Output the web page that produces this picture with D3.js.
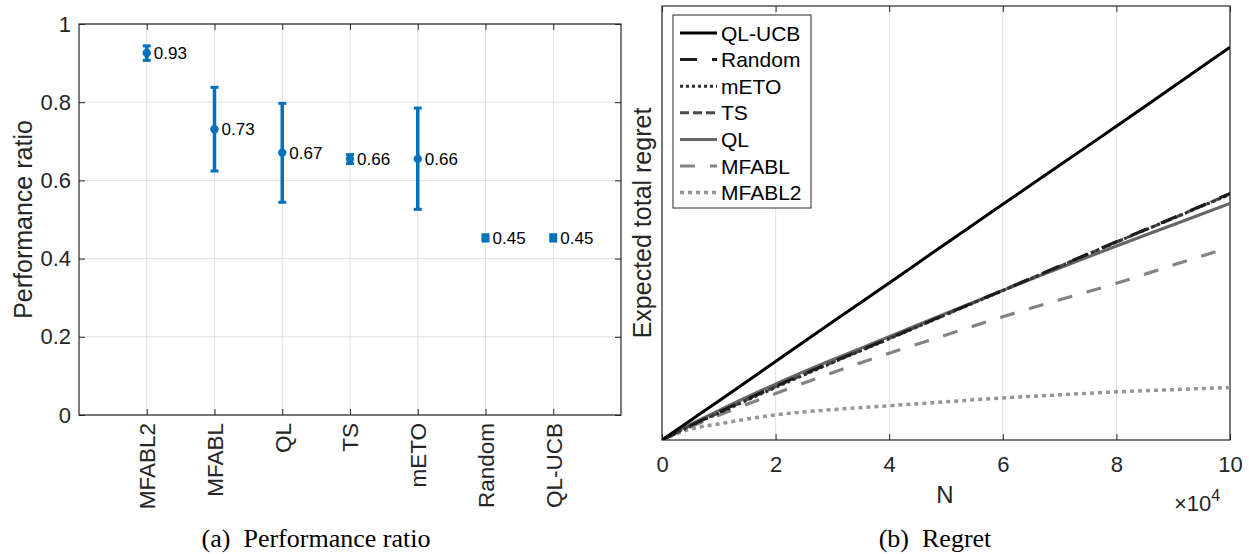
<!DOCTYPE html>
<html><head><meta charset="utf-8">
<script src="https://cdn.jsdelivr.net/npm/d3@7"></script>
<style>
body{margin:0;background:#fff}
svg{display:block}
.sans{font-family:"Liberation Sans", Arimo, Arial, Helvetica, sans-serif}
.serif{font-family:"Liberation Serif", Tinos, "Times New Roman", Times, serif}
</style>
</head><body>
<svg id="c" width="1249" height="554"></svg>
<script>
// ---- Panel (a) data ----
const categories = ["MFABL2","MFABL","QL","TS","mETO","Random","QL-UCB"];
const ratioMean  = [0.926, 0.731, 0.671, 0.655, 0.655, 0.453, 0.453];
const ratioLow   = [0.907, 0.624, 0.544, 0.643, 0.526, 0.445, 0.445];
const ratioHigh  = [0.944, 0.838, 0.797, 0.666, 0.785, 0.461, 0.461];
const ratioText  = ["0.93","0.73","0.67","0.66","0.66","0.45","0.45"];
const yTicksA    = [0, 0.2, 0.4, 0.6, 0.8, 1];

// ---- Panel (b) data (N in units of 1e4) ----
const nValues = [0, 0.5, 1, 2, 3, 4, 5, 6, 7, 8, 9, 10];
const seriesNames = ["QL-UCB","Random","mETO","TS","QL","MFABL","MFABL2"];
const regretQLUCB  = [0, 0.045, 0.090, 0.181, 0.272, 0.362, 0.453, 0.543, 0.633, 0.723, 0.814, 0.905];
const regretRandom = [0, 0.033, 0.064, 0.124, 0.180, 0.234, 0.290, 0.345, 0.401, 0.457, 0.512, 0.568];
const regretMETO   = [0, 0.032, 0.062, 0.121, 0.178, 0.233, 0.289, 0.344, 0.400, 0.456, 0.511, 0.566];
const regretTS     = [0, 0.033, 0.063, 0.123, 0.179, 0.234, 0.289, 0.345, 0.400, 0.456, 0.511, 0.567];
const regretQL     = [0, 0.036, 0.068, 0.129, 0.185, 0.238, 0.292, 0.345, 0.396, 0.447, 0.496, 0.545];
const regretMFABL  = [0, 0.030, 0.057, 0.107, 0.155, 0.200, 0.242, 0.284, 0.323, 0.361, 0.403, 0.444];
const regretMFABL2 = [0, 0.025, 0.037, 0.058, 0.070, 0.079, 0.088, 0.097, 0.104, 0.111, 0.116, 0.121];
const xTicksB = [0, 2, 4, 6, 8, 10];

const AX = "#262626", GRID = "#e0e0e0", BLUE = "#0072bd";
const svg = d3.select("#c");

// ================= Panel (a) =================
(function(){
  const L=79, R=621, T=24, B=415;
  const x = d3.scaleLinear().domain([0, 8]).range([L, R]);
  const y = d3.scaleLinear().domain([0, 1]).range([B, T]);
  const g = svg.append("g").attr("class","sans");
  const catX = categories.map((c,i)=>i+1);
  g.selectAll(".gy").data(yTicksA).join("line")
    .attr("x1",L).attr("x2",R).attr("y1",d=>y(d)).attr("y2",d=>y(d))
    .attr("stroke",GRID).attr("stroke-width",1);
  g.selectAll(".gx").data(catX).join("line")
    .attr("x1",d=>x(d)).attr("x2",d=>x(d)).attr("y1",T).attr("y2",B)
    .attr("stroke",GRID).attr("stroke-width",1);
  const yAxis = d3.axisLeft(y).tickValues(yTicksA).tickFormat(d=>String(+d.toFixed(1))).tickSizeInner(-6).tickSizeOuter(0).tickPadding(8);
  const ga = g.append("g").attr("transform",`translate(${L},0)`).call(yAxis);
  ga.attr("font-family",null).attr("font-size",null);
  ga.select(".domain").remove();
  ga.selectAll("line").attr("stroke",AX);
  ga.selectAll("text").attr("font-size",22).attr("fill",AX);
  const yAxisR = d3.axisRight(y).tickValues(yTicksA).tickFormat("").tickSizeInner(-6).tickSizeOuter(0);
  const gr = g.append("g").attr("transform",`translate(${R},0)`).call(yAxisR);
  gr.select(".domain").remove(); gr.selectAll("line").attr("stroke",AX);
  const xAxis = d3.axisBottom(x).tickValues(catX).tickFormat((d)=>categories[d-1]).tickSizeInner(-6).tickSizeOuter(0);
  const gb = g.append("g").attr("transform",`translate(0,${B})`).call(xAxis);
  gb.attr("font-family",null).attr("font-size",null);
  gb.select(".domain").remove(); gb.selectAll("line").attr("stroke",AX);
  gb.selectAll("text").attr("font-size",22.5).attr("fill",AX)
    .attr("transform","rotate(-90)").attr("text-anchor","end").attr("dy","0.35em").attr("x",-8).attr("y",0);
  const xAxisT = d3.axisTop(x).tickValues(catX).tickFormat("").tickSizeInner(-6).tickSizeOuter(0);
  const gt = g.append("g").attr("transform",`translate(0,${T})`).call(xAxisT);
  gt.select(".domain").remove(); gt.selectAll("line").attr("stroke",AX);
  g.append("rect").attr("x",L).attr("y",T).attr("width",R-L).attr("height",B-T)
    .attr("fill","none").attr("stroke",AX).attr("stroke-width",1.2);
  const eb = g.selectAll(".eb").data(categories.map((c,i)=>({i, x:catX[i], m:ratioMean[i], lo:ratioLow[i], hi:ratioHigh[i], t:ratioText[i]}))).join("g");
  eb.append("line").attr("x1",d=>x(d.x)).attr("x2",d=>x(d.x)).attr("y1",d=>y(d.lo)).attr("y2",d=>y(d.hi))
    .attr("stroke",BLUE).attr("stroke-width",3.5);
  eb.append("line").attr("x1",d=>x(d.x)-4).attr("x2",d=>x(d.x)+4).attr("y1",d=>y(d.lo)).attr("y2",d=>y(d.lo))
    .attr("stroke",BLUE).attr("stroke-width",3);
  eb.append("line").attr("x1",d=>x(d.x)-4).attr("x2",d=>x(d.x)+4).attr("y1",d=>y(d.hi)).attr("y2",d=>y(d.hi))
    .attr("stroke",BLUE).attr("stroke-width",3);
  eb.append("circle").attr("cx",d=>x(d.x)).attr("cy",d=>y(d.m)).attr("r",4.2).attr("fill",BLUE);
  eb.append("text").attr("x",d=>x(d.x)+7).attr("y",d=>y(d.m)).attr("dy","0.36em")
    .attr("font-size",17).attr("fill","#000").text(d=>d.t);
  g.append("text").attr("transform",`translate(32,${(T+B)/2}) rotate(-90)`).attr("text-anchor","middle")
    .attr("font-size",25).attr("fill",AX).text("Performance ratio");
  svg.append("text").attr("class","serif").attr("x",316).attr("y",547).attr("text-anchor","middle")
    .attr("font-size",26).attr("fill","#000")
    .attr("xml:space","preserve").text("(a)  Performance ratio");
})();

// ================= Panel (b) =================
(function(){
  const L=662, R=1230, T=6, B=440;
  const x = d3.scaleLinear().domain([0, 10]).range([L, R]);
  const y = d3.scaleLinear().domain([0, 1]).range([B, T]);
  const g = svg.append("g").attr("class","sans");
  g.selectAll(".gx").data(xTicksB).join("line")
    .attr("x1",d=>x(d)).attr("x2",d=>x(d)).attr("y1",T).attr("y2",B)
    .attr("stroke",GRID).attr("stroke-width",1);
  const xAxis = d3.axisBottom(x).tickValues(xTicksB).tickSizeInner(-6).tickSizeOuter(0).tickPadding(16);
  const gb = g.append("g").attr("transform",`translate(0,${B})`).call(xAxis);
  gb.attr("font-family",null).attr("font-size",null);
  gb.select(".domain").remove(); gb.selectAll("line").attr("stroke",AX);
  gb.selectAll("text").attr("font-size",22).attr("fill",AX);
  const xAxisT = d3.axisTop(x).tickValues(xTicksB).tickFormat("").tickSizeInner(-6).tickSizeOuter(0);
  const gt = g.append("g").attr("transform",`translate(0,${T})`).call(xAxisT);
  gt.select(".domain").remove(); gt.selectAll("line").attr("stroke",AX);
  g.append("rect").attr("x",L).attr("y",T).attr("width",R-L).attr("height",B-T)
    .attr("fill","none").attr("stroke",AX).attr("stroke-width",1.2);

  const series = [
    {name:seriesNames[0], v:regretQLUCB,  c:"#000000", dash:null, w:3},
    {name:seriesNames[1], v:regretRandom, c:"#1c1c1c", dash:"17,15", w:3},
    {name:seriesNames[2], v:regretMETO,   c:"#303030", dash:"3,3", w:3},
    {name:seriesNames[3], v:regretTS,     c:"#4a4a4a", dash:"9,4", w:3},
    {name:seriesNames[4], v:regretQL,     c:"#666666", dash:null, w:3},
    {name:seriesNames[5], v:regretMFABL,  c:"#838383", dash:"15,15", w:3.2},
    {name:seriesNames[6], v:regretMFABL2, c:"#969696", dash:"4,4", w:3.5}
  ];
  const line = d3.line().x((d,i)=>x(nValues[i])).y(d=>y(d)).curve(d3.curveMonotoneX);
  svg.append("clipPath").attr("id","clipb").append("rect").attr("x",L).attr("y",T).attr("width",R-L).attr("height",B-T);
  const drawOrder = [6,5,4,3,2,1,0];
  g.append("g").attr("clip-path","url(#clipb)").selectAll("path").data(drawOrder.map(i=>series[i])).join("path")
    .attr("d",d=>line(d.v)).attr("fill","none").attr("stroke",d=>d.c).attr("stroke-width",d=>d.w)
    .attr("stroke-dasharray",d=>d.dash);

  const lg = g.append("g");
  lg.append("rect").attr("x",673).attr("y",15).attr("width",138).attr("height",193)
    .attr("fill","#fff").attr("stroke",AX).attr("stroke-width",1);
  const rows = lg.selectAll(".row").data(series).join("g")
    .attr("transform",(d,i)=>`translate(0,${33+i*26.6})`);
  rows.append("line").attr("x1",680).attr("x2",717).attr("y1",0).attr("y2",0)
    .attr("stroke",d=>d.c).attr("stroke-width",d=>d.w).attr("stroke-dasharray",d=>d.dash);
  rows.append("text").attr("x",721).attr("y",0).attr("dy","0.36em")
    .attr("font-size",21).attr("fill","#000").text(d=>d.name);

  g.append("text").attr("transform",`translate(651,${(T+B)/2}) rotate(-90)`).attr("text-anchor","middle")
    .attr("font-size",25).attr("fill",AX).text("Expected total regret");
  g.append("text").attr("x",945).attr("y",503).attr("text-anchor","middle")
    .attr("font-size",24).attr("fill",AX).text("N");
  const ex = g.append("text").attr("x",1174).attr("y",511).attr("font-size",22).attr("fill",AX);
  ex.append("tspan").text("×10");
  ex.append("tspan").attr("font-size",16).attr("dy",-10).text("4");
  svg.append("text").attr("class","serif").attr("x",935).attr("y",547).attr("text-anchor","middle")
    .attr("font-size",26).attr("fill","#000")
    .attr("xml:space","preserve").text("(b)  Regret");
})();
</script>
</body></html>
